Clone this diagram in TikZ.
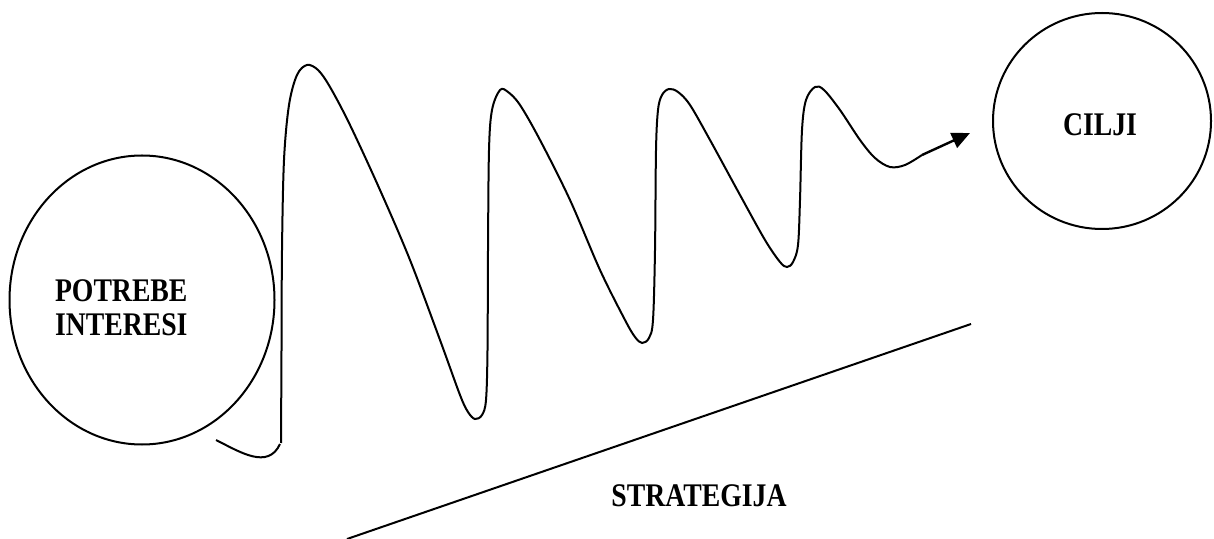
\documentclass[tikz,border=0pt]{standalone}
\usepackage{fontspec}
\setmainfont{Liberation Serif}[FakeStretch=0.84]
\usetikzlibrary{shapes.geometric,arrows.meta}
\begin{document}
\begin{tikzpicture}[x=0.5pt,y=-0.5pt,line width=1pt,
  bubble/.style={draw, ellipse, inner sep=0pt},
  lbl/.style={font=\fontsize{16.5}{17}\selectfont\bfseries, inner sep=0pt}]
\useasboundingbox (0,0) rectangle (1214,539);

% Circles
\node[bubble, minimum width=132.5pt, minimum height=144.5pt] (potrebe) at (142,300) {};
\node[bubble, minimum width=109pt, minimum height=108pt] (cilji) at (1102,121) {};

% Labels
\node[lbl, align=left, anchor=west] (potrebetxt) at (54,308) {POTREBE\\INTERESI};
\node[lbl] (ciljitxt) at (1100,125) {CILJI};
\node[lbl] (strategijatxt) at (699,496) {STRATEGIJA};

% Wave from needs to goals
\coordinate (wavestart) at (216,440);
\coordinate (wavefoot) at (280,444);
\coordinate (waveend) at (922,155);
\coordinate (arrowtip) at (970,133);
\draw (wavestart) .. controls (240,452) and (268,470) .. (wavefoot);
\draw plot[smooth, tension=0.55] coordinates {(281,443) (281.5,350) (282,250) (284,160)
  (289,105) (297,75) (307,65) (318,70) (330,87) (350,125) (380,190) (410,260)
  (440,340) (460,395) (468,412) (475,419) (482,415) (486,400) (487.5,350) (488,250)
  (489,150) (492,110) (500,90) (508,92) (520,105) (540,140) (570,200) (600,270)
  (625,320) (635,337) (642,343) (649,338) (653,320) (655,250) (656,150) (658,110)
  (662,95) (669,89) (678,92) (690,105) (710,140) (740,195) (765,240) (780,262)
  (787,267) (793,262) (798,245) (800,200) (802,130) (806,100) (815,87) (824,90)
  (840,110) (860,140) (875,158) (890,167) (905,165) (922,155)};
\draw[line width=1.2pt, -{Triangle[length=9pt,width=8pt]}] (waveend) -- (arrowtip);

% Strategy line
\coordinate (baseleft) at (347,539);
\coordinate (baseright) at (971,324);
\draw (baseleft) -- (baseright);
\end{tikzpicture}
\end{document}
